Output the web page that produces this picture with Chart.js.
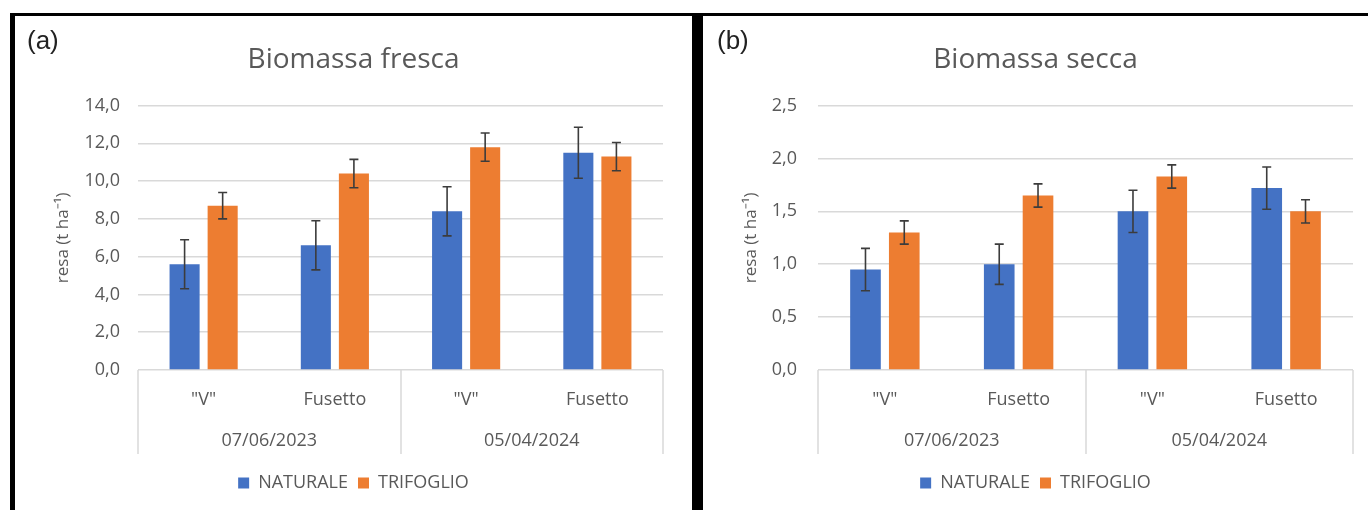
<!DOCTYPE html>
<html><head><meta charset="utf-8">
<script src="https://cdn.jsdelivr.net/npm/chart.js@4.4.1/dist/chart.umd.min.js"></script>
<style>
html,body{margin:0;padding:0;background:#fff;}
body{width:1368px;height:510px;position:relative;overflow:hidden;font-family:'Open Sans',sans-serif;}
.bar{position:absolute;background:#000;}
.panel{position:absolute;top:16px;height:494px;}
.tag{position:absolute;font-family:'Liberation Sans',Arial,sans-serif;font-size:26px;color:#222;line-height:30px;}
</style></head><body>
<div class="bar" style="left:10px;top:13px;width:1358px;height:3px"></div>
<div class="bar" style="left:10px;top:13px;width:5px;height:497px"></div>
<div class="bar" style="left:692px;top:13px;width:11px;height:497px"></div>
<div class="panel" style="left:15px;width:677px"><canvas id="ca"></canvas></div>
<div class="panel" style="left:703px;width:665px"><canvas id="cb"></canvas></div>
<div class="tag" style="left:27px;top:25px">(a)</div>
<div class="tag" style="left:717px;top:25px">(b)</div>
<script>
// ---- data ----
const subCategories = ['"V"', 'Fusetto', '"V"', 'Fusetto'];
const dateGroups = ['07/06/2023', '05/04/2024'];
const seriesNames = ['NATURALE', 'TRIFOGLIO'];

const freshNaturale = [5.6, 6.6, 8.4, 11.5];
const freshTrifoglio = [8.7, 10.4, 11.8, 11.3];
const freshNaturaleErr = [1.3, 1.3, 1.3, 1.35];
const freshTrifoglioErr = [0.7, 0.75, 0.75, 0.75];

const dryNaturale = [0.95, 1.0, 1.5, 1.72];
const dryTrifoglio = [1.3, 1.65, 1.83, 1.5];
const dryNaturaleErr = [0.2, 0.19, 0.2, 0.2];
const dryTrifoglioErr = [0.11, 0.11, 0.11, 0.11];

const freshTicks = [0, 14, 2];   // min, max, step
const dryTicks = [0, 2.5, 0.5];

const titles = ['Biomassa fresca', 'Biomassa secca'];
const yTitle = 'resa (t ha\u207B\u00B9)';

// ---- styling ----
const BLUE = '#4472C4', ORANGE = '#ED7D31', TEXT = '#595959', GRID = '#d9d9d9';
Chart.defaults.font.family = "'Open Sans', sans-serif";
Chart.defaults.color = TEXT;

const errorBars = {
  id: 'errorBars',
  afterDatasetsDraw(chart, args, opts) {
    const ctx = chart.ctx, y = chart.scales.y;
    ctx.save();
    ctx.strokeStyle = opts.color; ctx.lineWidth = opts.width;
    chart.data.datasets.forEach((ds, i) => {
      const meta = chart.getDatasetMeta(i);
      meta.data.forEach((bar, j) => {
        const v = ds.data[j], e = ds.errors[j];
        const top = y.getPixelForValue(v + e), bot = y.getPixelForValue(v - e);
        const x = bar.x, c = opts.cap / 2;
        ctx.beginPath();
        ctx.moveTo(x, top); ctx.lineTo(x, bot);
        ctx.moveTo(x - c, top); ctx.lineTo(x + c, top);
        ctx.moveTo(x - c, bot); ctx.lineTo(x + c, bot);
        ctx.stroke();
      });
    });
    ctx.restore();
  }
};

const groupBox = {
  id: 'groupBox',
  afterDraw(chart, args, opts) {
    const x2 = chart.scales.x2, ctx = chart.ctx;
    const top = chart.chartArea.bottom, bottom = x2.bottom - opts.trim;
    ctx.save();
    ctx.strokeStyle = opts.color; ctx.lineWidth = opts.width;
    for (let k = 0; k <= dateGroups.length; k++) {
      const px = Math.round(x2.getPixelForValue(k - 0.5));
      ctx.beginPath(); ctx.moveTo(px, top); ctx.lineTo(px, bottom); ctx.stroke();
    }
    ctx.restore();
  }
};

function makeChart(id, title, nat, natErr, tri, triErr, ticks, dims) {
  const fmt = v => Number(v).toFixed(1).replace('.', ',');
  return new Chart(document.getElementById(id), {
    type: 'bar',
    data: {
      labels: subCategories,
      datasets: [
        {label: seriesNames[0], data: nat, errors: natErr, backgroundColor: BLUE,
         categoryPercentage: 0.58, barPercentage: 0.79},
        {label: seriesNames[1], data: tri, errors: triErr, backgroundColor: ORANGE,
         categoryPercentage: 0.58, barPercentage: 0.79}
      ]
    },
    options: {
      responsive: true, maintainAspectRatio: false, animation: false,
      layout: {padding: {left: 0, right: 0, top: 0, bottom: dims.padBottom}},
      plugins: {
        title: {display: true, text: title, color: TEXT,
                font: {size: 28, weight: 'normal'}, padding: {top: dims.titleTop, bottom: dims.titleBottom}},
        legend: {position: 'bottom', labels: {boxWidth: 11, boxHeight: 11, font: {size: 18}, color: TEXT, padding: 10}},
        tooltip: {enabled: false},
        errorBars: {color: '#3c3c3c', width: 1.6, cap: 9},
        groupBox: {color: GRID, width: 1.5, trim: dims.trim}
      },
      scales: {
        x: {position: 'bottom', weight: 0, grid: {display: false}, border: {display: false},
            ticks: {font: {size: 18}, color: TEXT, padding: dims.xPad, maxRotation: 0, autoSkip: false},
            afterFit(s) { s.height = dims.xH; }},
        x2: {type: 'category', labels: dateGroups, offset: true, position: 'bottom', weight: 1,
             grid: {display: false}, border: {display: false},
             ticks: {font: {size: 18}, color: TEXT, padding: dims.x2Pad, maxRotation: 0},
             afterFit(s) { s.height = dims.x2H; }},
        y: {min: ticks[0], max: ticks[1],
            ticks: {stepSize: ticks[2], font: {size: 18}, color: TEXT, padding: dims.yPad, callback: fmt},
            grid: {color: GRID, lineWidth: 1.5, drawTicks: false}, border: {display: false},
            title: {display: true, text: yTitle, color: TEXT, font: {size: 17}, padding: {top: dims.yTitleTop, bottom: 0}},
            afterFit(s) { s.width = dims.yW; }},
        yr: {position: 'right', display: true, ticks: {display: false}, grid: {display: false},
             border: {display: false}, afterFit(s) { s.width = dims.rW; }}
      }
    },
    plugins: [errorBars, groupBox]
  });
}

makeChart('ca', titles[0], freshNaturale, freshNaturaleErr, freshTrifoglio, freshTrifoglioErr, freshTicks,
  {padBottom: 8, titleTop: 27, titleBottom: 29, xH: 43, xPad: 11, x2H: 51, x2Pad: 9, yW: 123, yPad: 18, yTitleTop: 38, rW: 29, trim: 10});
makeChart('cb', titles[1], dryNaturale, dryNaturaleErr, dryTrifoglio, dryTrifoglioErr, dryTicks,
  {padBottom: 8, titleTop: 27, titleBottom: 29, xH: 43, xPad: 11, x2H: 51, x2Pad: 9, yW: 115, yPad: 21, yTitleTop: 38, rW: 15, trim: 10});
</script>
</body></html>
